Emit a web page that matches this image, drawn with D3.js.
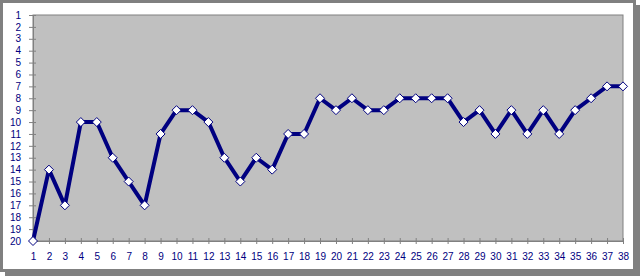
<!DOCTYPE html>
<html>
<head>
<meta charset="utf-8">
<script src="https://cdn.jsdelivr.net/npm/d3@7"></script>
<style>
  body { margin: 0; background: #fff; }
  svg { display: block; }
  .tick text { font-family: "Liberation Sans", Arial, sans-serif; font-size: 10px; fill: #000080; }
</style>
</head>
<body>
<div id="chart-area"></div>
<script>
// data
var days = d3.range(1, 39);
var positions = [20, 14, 17, 10, 10, 13, 15, 17, 11, 9, 9, 10, 13, 15, 13, 14, 11, 11, 8, 9,
  8, 9, 9, 8, 8, 8, 8, 10, 9, 11, 9, 11, 9, 11, 9, 8, 7, 7];
var yTicks = d3.range(1, 21);

// set the dimensions and margins of the graph
var W = 640, H = 276;
var margin = { top: 15, right: 17, bottom: 35, left: 33 },
  width = W - margin.left - margin.right,
  height = H - margin.top - margin.bottom;

var root = d3.select("#chart-area")
  .append("svg")
  .attr("width", W)
  .attr("height", H);

// frame with shadow
root.append("rect")
  .attr("x", 5).attr("y", 5)
  .attr("width", W - 5).attr("height", H - 5)
  .attr("fill", "#808080");
root.append("rect")
  .attr("x", 1.5).attr("y", 1.5)
  .attr("width", 633).attr("height", 269)
  .attr("fill", "#fff")
  .attr("stroke", "#808080")
  .attr("stroke-width", 3);

var svg = root.append("g")
  .attr("transform", "translate(" + margin.left + "," + margin.top + ")");

var x = d3.scaleLinear()
  .domain([1, 38])
  .range([0, width]);

var y = d3.scaleLinear()
  .domain([1, 20])
  .range([0, height]);

// plot area
svg.append("rect")
  .attr("width", width)
  .attr("height", height)
  .attr("fill", "#c0c0c0")
  .attr("stroke", "#808080")
  .attr("stroke-width", 1);

// X axis
var xAxis = svg.append("g")
  .attr("transform", "translate(0," + height + ")")
  .call(d3.axisBottom(x).tickValues(days).tickFormat(d3.format("d")).tickSize(0).tickPadding(12));
xAxis.select(".domain").attr("stroke", "#808080");
xAxis.selectAll(".tick").append("line")
  .attr("y1", -3).attr("y2", 3)
  .attr("stroke", "#808080");

// Y axis
var yAxis = svg.append("g")
  .call(d3.axisLeft(y).tickValues(yTicks).tickFormat(d3.format("d")).tickSize(0).tickPadding(12));
yAxis.select(".domain").attr("stroke", "#808080");
yAxis.selectAll(".tick").append("line")
  .attr("x1", -4).attr("x2", 3)
  .attr("stroke", "#808080");

// line
var line = d3.line()
  .x(function(d, i) { return x(days[i]); })
  .y(function(d) { return y(d); });

svg.append("path")
  .datum(positions)
  .attr("d", line)
  .attr("fill", "none")
  .attr("stroke", "#000080")
  .attr("stroke-width", 4)
  .attr("stroke-linejoin", "round");

// diamond markers
svg.append("g")
  .selectAll("path")
  .data(positions)
  .enter()
  .append("path")
  .attr("transform", function(d, i) { return "translate(" + x(days[i]) + "," + y(d) + ")"; })
  .attr("d", "M0,-4.5L4.5,0L0,4.5L-4.5,0Z")
  .attr("fill", "#fff")
  .attr("stroke", "#000080")
  .attr("stroke-width", 1);
</script>
</body>
</html>
